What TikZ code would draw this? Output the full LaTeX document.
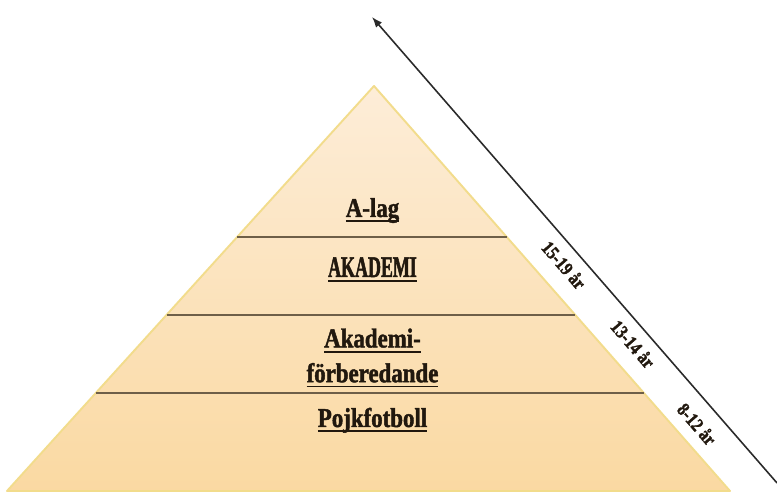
\documentclass[tikz,border=0pt]{standalone}
\usepackage{fontspec}
\setmainfont{Liberation Serif}
\newfontfamily\stretto[FakeStretch=0.84,FakeBold=1.6]{Liberation Serif}
\newfontfamily\strettissimo[FakeStretch=0.6,FakeBold=1.6]{Liberation Serif}
\usetikzlibrary{calc,arrows.meta}

\definecolor{pesca}{HTML}{FDEDD8}
\definecolor{pescascuro}{HTML}{FAD9A2}
\definecolor{bordo}{HTML}{F2DC8C}
\definecolor{riga}{HTML}{6E5F48}
\definecolor{inchiostro}{HTML}{21180E}
\definecolor{freccia}{HTML}{2A2A2A}

\newcommand{\sottolinea}[1]{\setbox0\hbox{#1}\rlap{\rule[-3pt]{\wd0}{1.1pt}}\box0}

\tikzset{
  livello/.style={font=\stretto\bfseries\fontsize{15.5}{19.8}\selectfont,
    text=inchiostro, align=center, inner sep=0pt},
  eta/.style={font=\stretto\bfseries\fontsize{10.8}{12}\selectfont,
    text=inchiostro, rotate=-49, inner sep=0pt},
}

\begin{document}
\begin{tikzpicture}
    \useasboundingbox (0,0) rectangle (15.54,9.82);

    % vertici
    \coordinate (cima) at (7.48,8.10);
    \coordinate (bs) at (0.14,0);
    \coordinate (bd) at (14.60,0);

    % piramide
    \shade[top color=pesca, bottom color=pescascuro] (cima) -- (bs) -- (bd) -- cycle;
    \draw[bordo, line width=1.1pt, line join=round] (cima) -- (bs) -- (bd) -- cycle;

    % livelli
    \draw[riga, line width=0.85pt] ($(cima)!0.373!(bs)$) -- ($(cima)!0.373!(bd)$);
    \draw[riga, line width=0.85pt] ($(cima)!0.565!(bs)$) -- ($(cima)!0.565!(bd)$);
    \draw[riga, line width=0.85pt] ($(cima)!0.758!(bs)$) -- ($(cima)!0.758!(bd)$);

    % etichette
    \node[livello, anchor=base] (alag) at (7.45,5.48) {\sottolinea{A-lag}};
    \node[livello, anchor=base, font=\strettissimo\bfseries\fontsize{17}{19.8}\selectfont]
        (akademi) at (7.45,4.28) {\sottolinea{AKADEMI}};
    \node[livello] (forb) at (7.45,2.66) {\sottolinea{Akademi-}\\\sottolinea{förberedande}};
    \node[livello, anchor=base] (pojk) at (7.45,1.28) {\sottolinea{Pojkfotboll}};

    % freccia
    \coordinate (punta) at (7.44,9.48);
    \coordinate (coda) at (15.54,0.16);
    \draw[freccia, line width=0.9pt, -{Latex[length=6pt,width=4.5pt]}] (coda) -- (punta);

    % età
    \node[eta] (eta1) at (11.28,4.52) {15-19 år};
    \node[eta] (eta2) at (12.66,2.94) {13-14 år};
    \node[eta] (eta3) at (13.94,1.34) {8-12 år};
\end{tikzpicture}
\end{document}
